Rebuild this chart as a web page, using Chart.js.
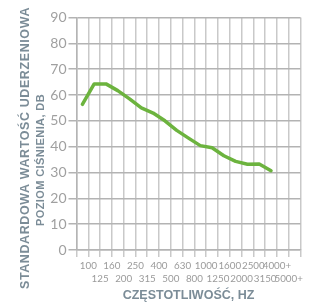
<!DOCTYPE html>
<html>
<head>
<meta charset="utf-8">
<script src="https://cdn.jsdelivr.net/npm/chart.js@4.4.1/dist/chart.umd.min.js"></script>
<style>
  html, body { margin: 0; padding: 0; background: #ffffff; }
  #wrap { width: 315px; height: 302px; position: relative; }
</style>
</head>
<body>
<div id="wrap"><canvas id="c"></canvas></div>
<script>
// Frequency tick labels (Hz)
const freqLabels = ['100','125','160','200','250','315','400','500','630','800','1000','1250','1600','2000','2500','3150','4000+','5000+'];
// Standard impact sound pressure level, dB (one value per band)
const levels = [56.4, 64.3, 64.3, 61.7, 58.5, 55, 53, 50, 46.3, 43.3, 40.4, 39.6, 36.5, 34.3, 33.2, 33.3, 30.7];
// Y axis ticks
const yMin = 0, yMax = 90, yStep = 10;
// Axis titles
const yTitleLines = ['STANDARDOWA WARTOŚĆ UDERZENIOWA', 'POZIOM CIŚNIENIA, DB'];
const xTitle = 'CZĘSTOTLIWOŚĆ, HZ';

const categories = freqLabels.concat(['']);
const titleColor = '#7b8c97';

const yTitlePlugin = {
  id: 'yTitle',
  afterDraw(chart) {
    const ctx = chart.ctx;
    const lines = [
      { text: yTitleLines[0], x: 26, y: 148, size: 12.5, spacing: '0.6px' },
      { text: yTitleLines[1], x: 41, y: 160, size: 11, spacing: '0.4px' }
    ];
    lines.forEach(l => {
      ctx.save();
      ctx.fillStyle = titleColor;
      ctx.textAlign = 'center';
      ctx.textBaseline = 'middle';
      if ('letterSpacing' in ctx) ctx.letterSpacing = l.spacing;
      ctx.translate(l.x, l.y);
      ctx.rotate(-Math.PI / 2);
      ctx.font = 'bold ' + l.size + 'px "Liberation Sans", Arial, sans-serif';
      ctx.fillText(l.text, 0, 0);
      ctx.restore();
    });
  }
};

new Chart(document.getElementById('c'), {
  type: 'line',
  data: {
    labels: categories,
    datasets: [{
      data: levels,
      borderColor: '#6cb33e',
      borderWidth: 3.5,
      pointRadius: 0,
      tension: 0,
      fill: false,
      borderCapStyle: 'round',
      borderJoinStyle: 'round'
    }]
  },
  options: {
    responsive: true,
    maintainAspectRatio: false,
    animation: false,
    layout: { padding: { left: 0, right: 14.5, top: 17.5, bottom: 0 } },
    plugins: { legend: { display: false }, tooltip: { enabled: false } },
    scales: {
      x: {
        type: 'category',
        offset: true,
        afterFit(s) { s.height = 52; },
        grid: { offset: true, color: '#c9c9c9', lineWidth: 1.5, tickLength: 7, drawTicks: true },
        border: { color: '#b4b4b4', width: 1.5 },
        ticks: {
          autoSkip: false,
          maxRotation: 0,
          minRotation: 0,
          padding: 2,
          labelOffset: 5.9,
          color: '#9a9a9a',
          font: { family: 'Lato', size: 9.8, lineHeight: 1.35 },
          callback(value, index) {
            const lab = categories[index];
            return index % 2 === 0 ? [lab, ''] : ['', lab];
          }
        },
        title: {
          display: true,
          text: xTitle,
          color: titleColor,
          padding: { top: 0, bottom: 0 },
          font: { family: '"Liberation Sans", Arial, sans-serif', size: 12.5, weight: 'bold', lineHeight: 1.0 }
        }
      },
      y: {
        min: yMin,
        max: yMax,
        afterFit(s) { s.width = 76.5; },
        grid: { color: '#b3b3b3', lineWidth: 1.5, tickLength: 8 },
        border: { color: '#b4b4b4', width: 1.5 },
        ticks: {
          stepSize: yStep,
          padding: 2,
          color: '#a0a0a0',
          font: { family: 'Lato', size: 14 }
        }
      }
    }
  },
  plugins: [yTitlePlugin]
});
</script>
</body>
</html>
